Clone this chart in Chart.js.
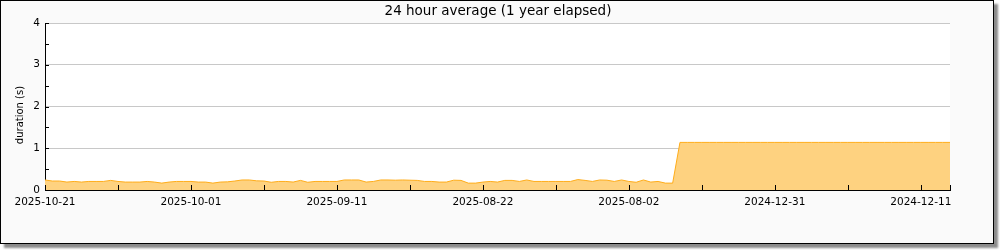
<!DOCTYPE html>
<html>
<head>
<meta charset="utf-8">
<script src="https://cdn.jsdelivr.net/npm/chart.js@4"></script>
<style>
  body { margin: 0; background: #fff; }
  #wrap {
    position: absolute; left: 0; top: 0;
    width: 992px; height: 242px;
    border: 1px solid #000;
    background: #fafafa;
    box-shadow: 4px 4px 2px rgba(0, 0, 0, 0.45);
  }
  canvas { display: block; }
</style>
</head>
<body>
<div id="wrap"><canvas id="avgChart" width="992" height="242"></canvas></div>
<script>
// --- dados ---
const chartTitle = '24 hour average (1 year elapsed)';
const yTitle = 'duration (s)';

// rótulos do eixo x, um a cada 20 dias (índice do dia = 0, 20, 40 ...)
const xLabels = ['2025-10-21', '2025-10-01', '2025-09-11', '2025-08-22', '2025-08-02', '2024-12-31', '2024-12-11'];

// média de 24h (s), dias 0..86
const recentValues = [
  0.24, 0.215, 0.215, 0.19, 0.205, 0.19, 0.205, 0.205, 0.205, 0.23,
  0.205, 0.19, 0.19, 0.19, 0.205, 0.19, 0.165, 0.19, 0.205, 0.205,
  0.205, 0.19, 0.19, 0.165, 0.19, 0.195, 0.215, 0.24, 0.24, 0.22,
  0.215, 0.185, 0.205, 0.205, 0.19, 0.23, 0.185, 0.205, 0.205, 0.205,
  0.205, 0.24, 0.24, 0.24, 0.19, 0.205, 0.24, 0.24, 0.235, 0.24,
  0.235, 0.23, 0.205, 0.205, 0.19, 0.19, 0.235, 0.23, 0.165, 0.165,
  0.19, 0.205, 0.19, 0.23, 0.23, 0.205, 0.24, 0.205, 0.205, 0.205,
  0.205, 0.205, 0.205, 0.25, 0.23, 0.205, 0.24, 0.235, 0.205, 0.24,
  0.205, 0.185, 0.24, 0.19, 0.205, 0.165, 0.165
];
// trecho antigo, valor constante (dias 87..124)
const olderValue = 1.14;
const olderDays = 38;

const yTicks = [0, 1, 2, 3, 4];

// --- monta os pontos ---
const points = recentValues.map((v, i) => ({ x: i, y: v }));
for (let i = 0; i < olderDays; i++) {
  points.push({ x: recentValues.length + i, y: olderValue });
}
const lastDay = points[points.length - 1].x;

Chart.defaults.font.family = "'DejaVu Sans', sans-serif";
Chart.defaults.color = '#000';

// marcas dos eixos para dentro da área do gráfico + títulos
const innerTicks = {
  id: 'innerTicks',
  afterDraw(chart) {
    const { ctx, chartArea, scales, width } = chart;
    ctx.save();
    ctx.strokeStyle = '#000';
    ctx.lineWidth = 1;
    ctx.beginPath();
    scales.x.ticks.forEach(t => {
      const px = Math.round(scales.x.getPixelForValue(t.value)) + 0.5;
      ctx.moveTo(px, chartArea.bottom);
      ctx.lineTo(px, chartArea.bottom - 5);
    });
    scales.y.ticks.forEach(t => {
      const py = Math.round(scales.y.getPixelForValue(t.value)) + 0.5;
      ctx.moveTo(chartArea.left, py);
      ctx.lineTo(chartArea.left + 4, py);
    });
    ctx.stroke();

    ctx.fillStyle = '#000';
    ctx.textAlign = 'center';
    ctx.textBaseline = 'middle';

    // título do gráfico, centrado na largura toda
    ctx.font = "13.5px 'DejaVu Sans'";
    ctx.fillText(chartTitle, width / 2 + 1, 10);

    // título do eixo y
    ctx.translate(19, 114);
    ctx.rotate(-Math.PI / 2);
    ctx.font = "10px 'DejaVu Sans'";
    ctx.fillText(yTitle, 0, 0);
    ctx.restore();
  }
};

const plotBg = {
  id: 'plotBg',
  beforeDraw(chart) {
    const { ctx, chartArea } = chart;
    ctx.save();
    ctx.fillStyle = '#fff';
    ctx.fillRect(chartArea.left, chartArea.top, chartArea.right - chartArea.left, chartArea.bottom - chartArea.top);
    ctx.restore();
  }
};

new Chart(document.getElementById('avgChart').getContext('2d'), {
  type: 'line',
  data: {
    datasets: [{
      data: points,
      borderColor: '#ffad1a',
      backgroundColor: '#fed280',
      borderWidth: 1,
      fill: 'origin',
      pointRadius: 0,
      tension: 0
    }]
  },
  options: {
    responsive: false,
    animation: false,
    layout: { padding: { left: 0, right: 43, top: 22, bottom: 0 } },
    plugins: {
      legend: { display: false },
      tooltip: { enabled: false },
      title: { display: false }
    },
    scales: {
      x: {
        type: 'linear',
        min: 0,
        max: lastDay,
        border: { color: '#000' },
        grid: { display: false, drawTicks: false },
        ticks: {
          stepSize: 10,
          autoSkip: false,
          maxRotation: 0,
          padding: 6,
          font: { size: 10.5 },
          callback: v => (v % 20 === 0 ? xLabels[v / 20] : '')
        },
        afterFit(scale) { scale.height = 53; }
      },
      y: {
        min: 0,
        max: yTicks[yTicks.length - 1],
        border: { color: '#000' },
        grid: {
          drawTicks: false,
          color: c => (c.tick && c.tick.value > 0 && yTicks.includes(c.tick.value) ? '#c8c8c8' : 'rgba(0,0,0,0)')
        },
        ticks: {
          stepSize: 0.5,
          padding: 5,
          font: { size: 10.5 },
          callback: v => (yTicks.includes(v) ? String(v) : '')
        },
        afterFit(scale) { scale.width = 44; }
      }
    }
  },
  plugins: [plotBg, innerTicks]
});
</script>
</body>
</html>
